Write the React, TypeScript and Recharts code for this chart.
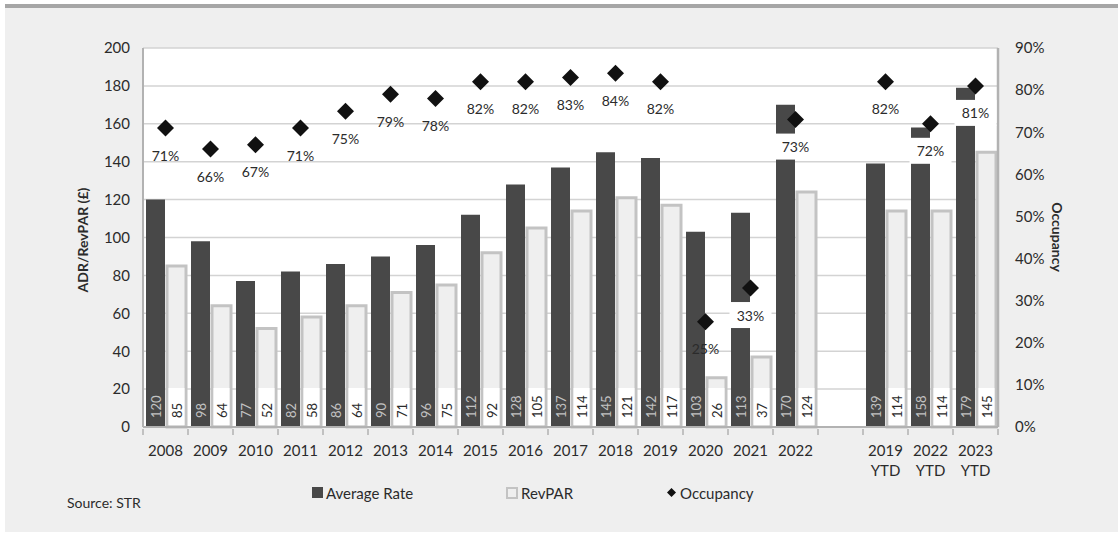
import React from 'react';
import { ComposedChart, Bar, Line, XAxis, YAxis, CartesianGrid, LabelList } from 'recharts';

const categories = [
  '2008', '2009', '2010', '2011', '2012', '2013', '2014', '2015', '2016', '2017',
  '2018', '2019', '2020', '2021', '2022', '', '2019 YTD', '2022 YTD', '2023 YTD',
];
const averageRate = [120, 98, 77, 82, 86, 90, 96, 112, 128, 137, 145, 142, 103, 113, 170, null, 139, 158, 179];
const revPar = [85, 64, 52, 58, 64, 71, 75, 92, 105, 114, 121, 117, 26, 37, 124, null, 114, 114, 145];
const occupancy = [71, 66, 67, 71, 75, 79, 78, 82, 82, 83, 84, 82, 25, 33, 73, null, 82, 72, 81];
const leftTicks = [0, 20, 40, 60, 80, 100, 120, 140, 160, 180, 200];
const rightTicks = [0, 10, 20, 30, 40, 50, 60, 70, 80, 90];
// occupancy labels that sit on a white box (the ones drawn over bars)
const boxedLabels = ['2021', '2022', '2022 YTD', '2023 YTD'];

const W = 1118;
const H = 534;
const PLOT_LEFT = 143;
const PLOT_RIGHT = 998;
const BAND = (PLOT_RIGHT - PLOT_LEFT) / categories.length;
const FONT = 'Lato, "Open Sans", sans-serif';
const TEXT = '#2b2b2b';
const DARK = '#484848';
const AXIS = '#b2b2b2';

const data = categories.map((name, i) => ({
  name,
  adr: averageRate[i],
  revpar: revPar[i],
  occ: occupancy[i],
}));

// x axis labels with tick marks between the categories
function XTick(props: any) {
  const { x, y, payload, index } = props;
  const lines = String(payload.value).split(' ').filter(Boolean);
  const left = x - BAND / 2;
  return (
    <g>
      <line x1={left} x2={left} y1={y} y2={y + 6} stroke={AXIS} strokeWidth={1.5} />
      {index === categories.length - 1 && (
        <line x1={x + BAND / 2} x2={x + BAND / 2} y1={y} y2={y + 6} stroke={AXIS} strokeWidth={1.5} />
      )}
      {lines.map((l, k) => (
        <text key={k} x={x} y={y + 27 + k * 20} textAnchor="middle" fontSize={15} fill={TEXT} fontFamily={FONT}>
          {l}
        </text>
      ))}
    </g>
  );
}

function box(p: any) {
  const vb = p.viewBox || {};
  return {
    x: p.x ?? vb.x,
    y: p.y ?? vb.y,
    width: p.width ?? vb.width ?? 0,
    height: p.height ?? vb.height ?? 0,
  };
}

const DarkLabel = (p: any) => {
  if (p.value == null) return null;
  const { x, y, width, height } = box(p);
  const cx = x + width / 2;
  const by = y + height - 9;
  return (
    <text x={cx} y={by} transform={`rotate(-90 ${cx} ${by})`} textAnchor="start" dominantBaseline="central"
      fontSize={13} fill="#c2c2c2" fontFamily={FONT}>
      {p.value}
    </text>
  );
};

const LightLabel = (p: any) => {
  if (p.value == null) return null;
  const { x, y, width, height } = box(p);
  const cx = x + width / 2;
  const bottom = y + height;
  const by = bottom - 9;
  return (
    <g>
      <rect x={x + 1.5} y={bottom - 39} width={width - 3} height={37} fill="#fff" />
      <text x={cx} y={by} transform={`rotate(-90 ${cx} ${by})`} textAnchor="start" dominantBaseline="central"
        fontSize={13} fill={TEXT} fontFamily={FONT}>
        {p.value}
      </text>
    </g>
  );
};

const OccLabel = (p: any) => {
  if (p.value == null) return null;
  const { x, y } = box(p);
  const boxed = boxedLabels.includes(categories[p.index]);
  return (
    <g>
      {boxed && <rect x={x - 21} y={y + 14} width={42} height={26} fill="#fff" />}
      <text x={x} y={y + 27} textAnchor="middle" dominantBaseline="central" fontSize={14} fill={TEXT} fontFamily={FONT}>
        {p.value}%
      </text>
    </g>
  );
};

const Diamond = (p: any) => {
  const { cx, cy, index, value } = p;
  if (cx == null || cy == null || value == null) return <g key={index} />;
  const r = 8.5;
  return <path key={index} d={`M${cx},${cy - r}L${cx + r},${cy}L${cx},${cy + r}L${cx - r},${cy}Z`} fill="#111" />;
};

export default function App() {
  const tickStyle = { fontSize: 15, fill: TEXT, fontFamily: FONT };
  return (
    <div style={{ position: 'absolute', left: 0, top: 0, width: W, height: H, background: '#fff', overflow: 'hidden' }}>
      <div
        style={{
          position: 'absolute', left: 5, top: 4, width: W - 5, height: H - 6,
          background: '#efefef', borderTop: '4px solid #a6a6a6', boxSizing: 'border-box',
        }}
      />
      <div style={{ position: 'absolute', left: 0, top: 0 }}>
        <ComposedChart width={W} height={H} data={data} margin={{ top: 48, right: 0, left: 0, bottom: 57 }}
          barSize={19} barGap={2}>
          <CartesianGrid yAxisId="left" vertical={false} stroke="#d3d3d3" strokeWidth={1.5} fill="#fff" />
          <XAxis dataKey="name" interval={0} height={50} tickLine={false} tickSize={0}
            axisLine={{ stroke: AXIS, strokeWidth: 2 }} tick={(p: any) => <XTick {...p} />} />
          <YAxis yAxisId="left" width={PLOT_LEFT} domain={[0, 200]} ticks={leftTicks} tickLine={false}
            tickSize={0} tickMargin={13} axisLine={{ stroke: AXIS, strokeWidth: 2 }} tick={tickStyle} />
          <YAxis yAxisId="right" orientation="right" width={W - PLOT_RIGHT} domain={[0, 90]} ticks={rightTicks}
            tickFormatter={(v: number) => `${v}%`} tickLine={false} tickSize={0} tickMargin={17}
            axisLine={{ stroke: AXIS, strokeWidth: 2.5 }} tick={tickStyle} />
          <Bar yAxisId="left" dataKey="adr" fill={DARK} isAnimationActive={false}>
            <LabelList dataKey="adr" content={DarkLabel} />
          </Bar>
          <Bar yAxisId="left" dataKey="revpar" fill="#efefef" stroke="#c3c3c3" strokeWidth={3} isAnimationActive={false}>
            <LabelList dataKey="revpar" content={LightLabel} />
          </Bar>
          <Line yAxisId="right" dataKey="occ" stroke="none" dot={Diamond} activeDot={false} isAnimationActive={false}>
            <LabelList dataKey="occ" content={OccLabel} />
          </Line>
        </ComposedChart>
      </div>
      <svg width={W} height={H} style={{ position: 'absolute', left: 0, top: 0, pointerEvents: 'none' }}>
        <text x={82} y={240} transform="rotate(-90 82 240)" textAnchor="middle" dominantBaseline="central"
          fontSize={14} fontWeight="bold" fill={TEXT} fontFamily={FONT}>
          ADR/RevPAR (£)
        </text>
        <text x={1057} y={237} transform="rotate(90 1057 237)" textAnchor="middle" dominantBaseline="central"
          fontSize={14} fontWeight="bold" fill={TEXT} fontFamily={FONT}>
          Occupancy
        </text>
        <rect x={312} y={487} width={11} height={11} fill={DARK} />
        <text x={326} y={492.5} dominantBaseline="central" fontSize={15} fill={TEXT} fontFamily={FONT}>Average Rate</text>
        <rect x={507} y={488} width={10} height={10} fill="#efefef" stroke="#c3c3c3" strokeWidth={2} />
        <text x={521} y={492.5} dominantBaseline="central" fontSize={15} fill={TEXT} fontFamily={FONT}>RevPAR</text>
        <path d="M671.5,488L676,492.5L671.5,497L667,492.5Z" fill="#111" />
        <text x={680} y={492.5} dominantBaseline="central" fontSize={15} fill={TEXT} fontFamily={FONT}>Occupancy</text>
        <text x={67} y={502} dominantBaseline="central" fontSize={14} fill={TEXT} fontFamily={FONT}>Source: STR</text>
      </svg>
    </div>
  );
}
